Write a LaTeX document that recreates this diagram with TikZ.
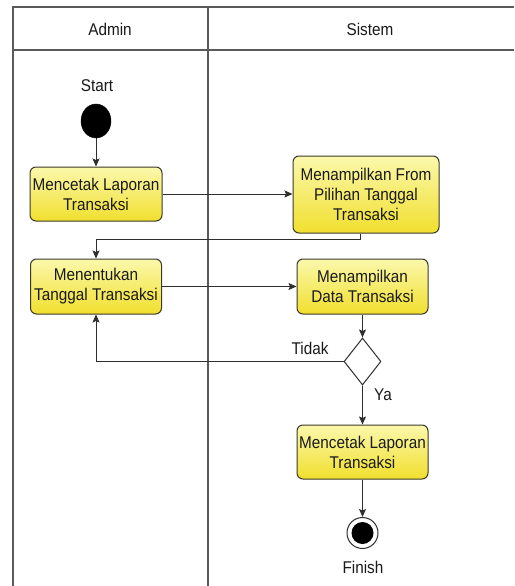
\documentclass[tikz,border=0pt]{standalone}
\usepackage{fontspec}
\setmainfont{Liberation Sans}[FakeStretch=0.9]
\usetikzlibrary{arrows.meta,shapes.geometric}
\definecolor{lanecol}{HTML}{5A5A5A}
\definecolor{linecol}{HTML}{2E2E2E}
\definecolor{boxtop}{HTML}{FBF8AC}
\definecolor{boxbot}{HTML}{F1DF2E}
\definecolor{boxedge}{HTML}{3A3A2A}
\definecolor{txtcol}{HTML}{1A1A1A}
\tikzset{
  lane/.style={draw=lanecol, line width=1.4pt},
  actbox/.style={draw=boxedge, line width=1pt, rounded corners=6pt,
    top color=boxtop, bottom color=boxbot, align=center,
    text=txtcol, inner sep=0pt, font=\fontsize{17}{20}\selectfont},
  lbl/.style={text=txtcol, font=\fontsize{17}{19}\selectfont, inner sep=0pt},
  flow/.style={draw=linecol, line width=1pt,
    -{Stealth[length=8pt,width=7pt,inset=1.5pt]}},
  plain/.style={draw=linecol, line width=1pt},
  decision/.style={diamond, draw=linecol, line width=1pt, fill=white,
    minimum width=37pt, minimum height=47pt, inner sep=0pt}
}
\begin{document}
\begin{tikzpicture}[x=1pt,y=-1pt]
\useasboundingbox (0,0) rectangle (514,586);
\fill[white] (0,0) rectangle (514,586);

% swimlane frame
\draw[lane] (13,586) -- (13,7) -- (514,7);
\draw[lane] (13,50) -- (514,50);
\draw[lane] (208,7) -- (208,586);
\node[lbl] (hAdmin) at (110,29) {Admin};
\node[lbl] (hSistem) at (370,29) {Sistem};

% start
\node[lbl] (startlbl) at (97,86) {Start};
\node[ellipse, fill=black, draw=black, minimum width=30pt, minimum height=34pt, inner sep=0pt] (start) at (96,121) {};

% activities
\node[actbox, minimum width=132pt, minimum height=54pt] (a1) at (96,194) {Mencetak Laporan\\Transaksi};
\node[actbox, minimum width=146pt, minimum height=77pt] (a2) at (366,194.5) {Menampilkan From\\Pilihan Tanggal\\Transaksi};
\node[actbox, minimum width=131pt, minimum height=55pt] (a3) at (96,286.5) {Menentukan\\Tanggal Transaksi};
\node[actbox, minimum width=131pt, minimum height=55pt] (a4) at (362.5,286.5) {Menampilkan\\Data Transaksi};
\node[decision] (dec) at (362.5,361.5) {};
\node[actbox, minimum width=131pt, minimum height=54pt] (a5) at (362.5,452) {Mencetak Laporan\\Transaksi};

% finish
\node[circle, draw=linecol, line width=1pt, fill=white, minimum size=31pt, inner sep=0pt] (finish) at (362.5,533) {};
\fill[black] (finish.center) circle (11pt);
\node[lbl] (finishlbl) at (363,567) {Finish};

% guard labels
\node[lbl] (tidak) at (310,348) {Tidak};
\node[lbl] (ya) at (383,395) {Ya};

% flows
\coordinate (j1) at (360,239);
\coordinate (j2) at (96,239);
\draw[flow] (start) -- (a1);
\draw[flow] (a1.east) -- (a1.east -| a2.west);
\draw[plain] (j1 |- a2.south) -- (j1) -- (j2);
\draw[flow] (j2) -- (a3.north);
\draw[flow] (a3.east) -- (a3.east -| a4.west);
\draw[flow] (a4.south) -- (dec.north);
\draw[flow] (dec.west) -| (a3.south);
\draw[flow] (dec.south) -- (a5.north);
\draw[flow] (a5.south) -- (finish.north);
\end{tikzpicture}
\end{document}
